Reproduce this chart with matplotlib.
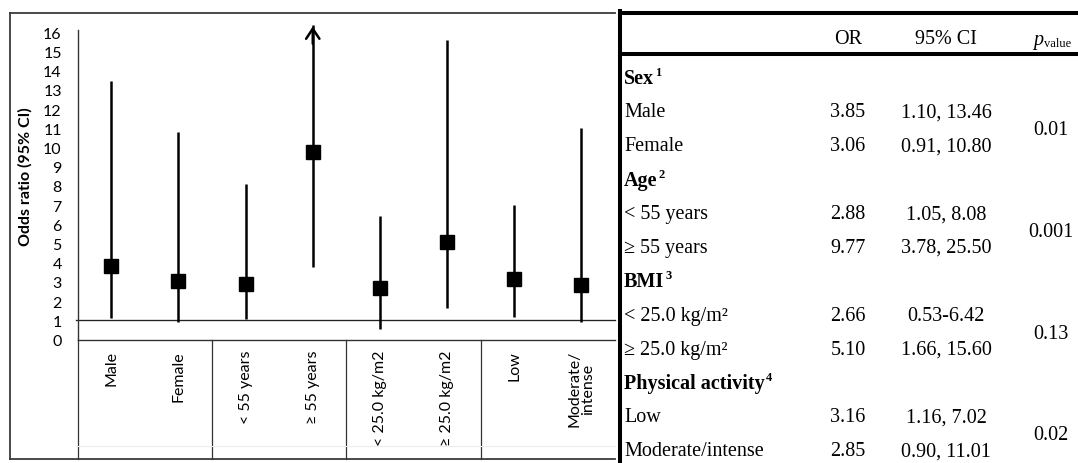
import matplotlib
matplotlib.use("Agg")
import matplotlib.pyplot as plt
from matplotlib.lines import Line2D

# ---------------- data ----------------
categories = ["Male", "Female", "< 55 years", "\u2265 55 years",
              "< 25.0 kg/m2", "\u2265 25.0 kg/m2", "Low", "Moderate/\nintense"]
odds_ratio = [3.85, 3.06, 2.88, 9.77, 2.66, 5.10, 3.16, 2.85]
ci_low = [1.10, 0.91, 1.05, 3.78, 0.53, 1.66, 1.16, 0.90]
ci_high = [13.46, 10.80, 8.08, 25.50, 6.42, 15.60, 7.02, 11.01]
group_sizes = [2, 2, 2, 2]
yticks = list(range(0, 17))

group_names = ["Sex", "Age", "BMI", "Physical activity"]
group_notes = ["1", "2", "3", "4"]
row_labels = ["Male", "Female", "< 55 years", "\u2265 55 years",
              "< 25.0 kg/m\u00b2", "\u2265 25.0 kg/m\u00b2", "Low", "Moderate/intense"]
or_text = ["3.85", "3.06", "2.88", "9.77", "2.66", "5.10", "3.16", "2.85"]
ci_text = ["1.10, 13.46", "0.91, 10.80", "1.05, 8.08", "3.78, 25.50",
           "0.53-6.42", "1.66, 15.60", "1.16, 7.02", "0.90, 11.01"]
p_values = ["0.01", "0.001", "0.13", "0.02"]
header = ["OR", "95% CI"]

# ---------------- figure ----------------
W, H = 1078, 464
fig = plt.figure(figsize=(W / 100, H / 100), dpi=100)
fig.patch.set_facecolor("white")


def fx(px):
    return px / W


def fy(py):
    return 1 - py / H


sans = ["Lato", "DejaVu Sans"]
serif = ["Liberation Serif", "DejaVu Serif"]

# chart axes
ax_l, ax_r, ax_b, ax_t = 77.7, 615, 340.5, 25.6
ax = fig.add_axes([fx(ax_l), fy(ax_b), fx(ax_r) - fx(ax_l), (ax_b - ax_t) / H])
ymax = 16.4
ax.set_xlim(-0.5, len(categories) - 0.5)
ax.set_ylim(0, ymax)
for s in ["top", "right"]:
    ax.spines[s].set_visible(False)
ax.spines["left"].set_bounds(0, 16.1)
ax.spines["left"].set_color("#333333")
ax.spines["left"].set_linewidth(1.0)
ax.spines["bottom"].set_color("#333333")
ax.spines["bottom"].set_linewidth(1.0)
ax.set_facecolor("white")

xs = list(range(len(categories)))
for x, o, lo, hi in zip(xs, odds_ratio, ci_low, ci_high):
    top = min(hi, ymax)
    ax.plot([x, x], [lo, top], color="black", lw=1.8, solid_capstyle="butt", zorder=3)
    if hi > ymax:
        ax.annotate("", xy=(x, ymax - 0.1), xytext=(x, ymax - 1.0),
                    arrowprops=dict(arrowstyle="->,head_length=0.45,head_width=0.3",
                                    color="black", lw=1.8, mutation_scale=16,
                                    shrinkA=0, shrinkB=0), zorder=4)
ax.plot(xs, odds_ratio, linestyle="none", marker="s", markersize=9.5,
        color="black", zorder=5)

# reference line at OR = 1
ax.axhline(1, xmin=-0.004, xmax=1, color="#222222", lw=0.95, clip_on=False, zorder=2)

ax.set_yticks(yticks)
ax.set_yticklabels([str(t) for t in yticks], fontfamily=sans, fontsize=11.5)
ax.tick_params(axis="y", length=0, pad=11.5)
ax.set_xticks(xs)
ax.set_xticklabels(categories, rotation=90, fontfamily=sans, fontsize=11.5,
                   multialignment="center", linespacing=1.0)
ax.tick_params(axis="x", length=0, pad=7.5)
ax.set_ylabel("Odds ratio (95% CI)", fontfamily=sans, fontsize=11.5, fontweight="bold")
ax.yaxis.set_label_coords((33 - ax_l) / (ax_r - ax_l), (ax_b - 177) / (ax_b - ax_t))

# group separators under the axis
ext = -(460 - ax_b) / (ax_b - ax_t)
bounds = [-0.5]
acc = -0.5
for g in group_sizes[:-1]:
    acc += g
    bounds.append(acc)
for b in bounds:
    ax.axvline(b, ymin=ext, ymax=0, color="#333333", lw=0.9, clip_on=False)
ax.axhline(-(447 - ax_b) / 19.2, xmin=0, xmax=1, color="#ececec", lw=0.8, clip_on=False)

# outer frame of left panel
lc = "#3a3a3a"
fig.add_artist(Line2D([fx(10), fx(615)], [fy(14), fy(14)], color=lc, lw=1.3))
fig.add_artist(Line2D([fx(10), fx(10)], [fy(14), fy(460)], color=lc, lw=1.3))
fig.add_artist(Line2D([fx(10), fx(615)], [fy(460), fy(460)], color=lc, lw=1.3))

# ---------------- table ----------------
tl = 619.5
fig.add_artist(Line2D([fx(tl), fx(tl)], [fy(12), fy(464)], color="black", lw=2.9))
fig.add_artist(Line2D([fx(tl), fx(W)], [fy(14), fy(14)], color="black", lw=2.9))
fig.add_artist(Line2D([fx(tl), fx(W)], [fy(55), fy(55)], color="black", lw=2.9))

fs = 14.5
x_lab, x_or, x_ci, x_p = 624, 848, 946, 1051
fig.canvas.draw()
renderer = fig.canvas.get_renderer()

hy = 39
fig.text(fx(x_or), fy(hy), header[0], fontfamily=serif, fontsize=fs, ha="center", va="center")
fig.text(fx(x_ci), fy(hy), header[1], fontfamily=serif, fontsize=fs, ha="center", va="center")
pt = fig.text(fx(x_p - 18), fy(hy + 6), "p", fontfamily=serif, fontsize=fs,
              style="italic", ha="left", va="baseline")
bb = pt.get_window_extent(renderer)
fig.text((bb.x1 + 0.5) / W, fy(hy + 8), "value", fontfamily=serif, fontsize=9,
         ha="left", va="baseline")

row0, step = 79, 33.9
row = 0
lab_i = 0
for gi, (gname, note, gsize) in enumerate(zip(group_names, group_notes, group_sizes)):
    y = row0 + row * step
    t = fig.text(fx(x_lab), fy(y), gname, fontfamily=serif, fontsize=fs,
                 fontweight="bold", ha="left", va="center")
    bb = t.get_window_extent(renderer)
    fig.text((bb.x1 + 0.8) / W, fy(y - 6), note, fontfamily=serif, fontsize=9,
             fontweight="bold", ha="left", va="center")
    row += 1
    ys = []
    for k in range(gsize):
        y = row0 + row * step
        ys.append(y)
        fig.text(fx(x_lab), fy(y), row_labels[lab_i], fontfamily=serif, fontsize=fs,
                 ha="left", va="center")
        fig.text(fx(x_or), fy(y), or_text[lab_i], fontfamily=serif, fontsize=fs,
                 ha="center", va="center")
        fig.text(fx(x_ci), fy(y), ci_text[lab_i], fontfamily=serif, fontsize=fs,
                 ha="center", va="center")
        lab_i += 1
        row += 1
    fig.text(fx(x_p), fy(sum(ys) / len(ys) + 1), p_values[gi], fontfamily=serif,
             fontsize=fs, ha="center", va="center")

fig.savefig("out.png", dpi=100, facecolor="white")
